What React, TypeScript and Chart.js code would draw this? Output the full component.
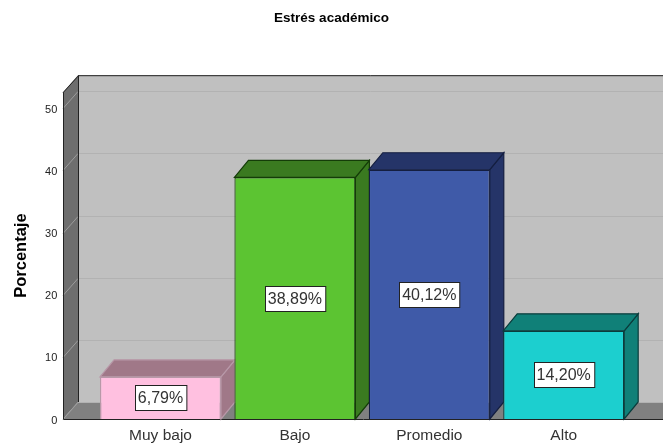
import React, { useEffect, useRef } from "react";
import { Chart, registerables } from "chart.js";

Chart.register(...registerables);

const chartTitle = "Estrés académico";
const yTitle = "Porcentaje";
const categories = ["Muy bajo", "Bajo", "Promedio", "Alto"];
const percentages = [6.79, 38.89, 40.12, 14.2];
const frontColors = ["#FFC0E0", "#5CC432", "#3F5AA8", "#1CCFCF"];
const sideColors = ["#A07888", "#3A7A20", "#253468", "#108078"];
const edgeColors = ["#B898A8", "#143C08", "#141E40", "#0A3C3C"];

const FONT = "'Liberation Sans', Arial, sans-serif";
const DX = 15;
const DY = 17;

const scene3d = {
  id: "scene3d",
  beforeDatasetsDraw(chart: any) {
    const { ctx, scales, width } = chart;
    const y = scales.y;
    const top = y.getPixelForValue(y.max);
    const base = y.getPixelForValue(0);
    const wx = 63;
    const bx = wx + DX;
    ctx.save();
    // back wall
    ctx.fillStyle = "#C0C0C0";
    ctx.fillRect(bx, top - DY, width - bx, base - top);
    // left wall
    ctx.fillStyle = "#6E6E6E";
    ctx.beginPath();
    ctx.moveTo(wx, top);
    ctx.lineTo(bx, top - DY);
    ctx.lineTo(bx, base - DY);
    ctx.lineTo(wx, base);
    ctx.closePath();
    ctx.fill();
    // floor
    ctx.fillStyle = "#808080";
    ctx.beginPath();
    ctx.moveTo(wx, base);
    ctx.lineTo(bx, base - DY);
    ctx.lineTo(width, base - DY);
    ctx.lineTo(width, base);
    ctx.closePath();
    ctx.fill();
    // grid lines
    ctx.lineWidth = 1;
    y.ticks.forEach((t: any) => {
      const py = Math.round(y.getPixelForValue(t.value)) + 0.5;
      ctx.strokeStyle = "#B2B2B2";
      ctx.beginPath();
      ctx.moveTo(bx, py - DY);
      ctx.lineTo(width, py - DY);
      ctx.stroke();
      ctx.strokeStyle = "#9C9C9C";
      ctx.beginPath();
      ctx.moveTo(wx, py);
      ctx.lineTo(bx, py - DY);
      ctx.stroke();
    });
    // outlines
    ctx.strokeStyle = "#222222";
    ctx.lineWidth = 1;
    ctx.beginPath();
    ctx.moveTo(width, top - DY + 0.5);
    ctx.lineTo(bx + 0.5, top - DY + 0.5);
    ctx.lineTo(wx + 0.5, top);
    ctx.lineTo(wx + 0.5, base + 0.5);
    ctx.lineTo(width, base + 0.5);
    ctx.moveTo(bx + 0.5, top - DY);
    ctx.lineTo(bx + 0.5, base - DY);
    ctx.stroke();
    // 3D bar faces, left to right
    const bars = chart.getDatasetMeta(0).data;
    bars.forEach((bar: any, i: number) => {
      const l = bar.x - bar.width / 2;
      const r = bar.x + bar.width / 2;
      const ty = bar.y;
      const by = bar.base;
      const dx = 14;
      ctx.lineWidth = 1.2;
      ctx.strokeStyle = edgeColors[i];
      ctx.fillStyle = sideColors[i];
      ctx.beginPath();
      ctx.moveTo(r, ty);
      ctx.lineTo(r + dx, ty - DY);
      ctx.lineTo(r + dx, by - DY);
      ctx.lineTo(r, by);
      ctx.closePath();
      ctx.fill();
      ctx.stroke();
      ctx.beginPath();
      ctx.moveTo(l, ty);
      ctx.lineTo(l + dx, ty - DY);
      ctx.lineTo(r + dx, ty - DY);
      ctx.lineTo(r, ty);
      ctx.closePath();
      ctx.fill();
      ctx.stroke();
    });
    ctx.restore();
  },
  afterDatasetsDraw(chart: any) {
    const { ctx } = chart;
    const bars = chart.getDatasetMeta(0).data;
    ctx.save();
    ctx.font = `16px ${FONT}`;
    ctx.textAlign = "center";
    ctx.textBaseline = "middle";
    bars.forEach((bar: any, i: number) => {
      const text = percentages[i].toFixed(2).replace(".", ",") + "%";
      const w = ctx.measureText(text).width + 6;
      const h = 25;
      const cy = (bar.y + bar.base) / 2;
      const x = Math.round(bar.x - w / 2) + 0.5;
      const yy = Math.round(cy - h / 2) + 0.5;
      ctx.fillStyle = "#FFFFFF";
      ctx.fillRect(x, yy, w, h);
      ctx.strokeStyle = "#222222";
      ctx.lineWidth = 1;
      ctx.strokeRect(x, yy, w, h);
      ctx.fillStyle = "#333333";
      ctx.fillText(text, bar.x, cy + 1);
    });
    ctx.restore();
  },
};

export default function App() {
  const ref = useRef<HTMLCanvasElement>(null);
  useEffect(() => {
    document.body.style.margin = "0";
    const chart = new Chart(ref.current!, {
      type: "bar",
      data: {
        labels: categories,
        datasets: [
          {
            data: percentages,
            backgroundColor: frontColors,
            borderColor: edgeColors,
            borderWidth: 1.2,
            categoryPercentage: 1,
            barPercentage: 0.9,
          },
        ],
      },
      options: {
        animation: false,
        responsive: false,
        maintainAspectRatio: false,
        layout: { padding: 0 },
        plugins: {
          legend: { display: false },
          tooltip: { enabled: false },
          title: {
            display: true,
            text: chartTitle,
            color: "#000000",
            font: { family: FONT, size: 13.5, weight: "bold" },
            padding: { top: 10, bottom: 66 },
          },
        },
        scales: {
          x: {
            grid: { display: false, drawTicks: false },
            border: { display: false },
            afterFit: (s: any) => {
              s.height = 27;
            },
            ticks: {
              color: "#333333",
              font: { family: FONT, size: 15.5 },
              padding: 7,
              maxRotation: 0,
            },
          },
          y: {
            min: 0,
            max: 52.6,
            grid: { display: false, drawTicks: false },
            border: { display: false },
            afterFit: (s: any) => {
              s.width = 93.3;
              s.paddingTop = 0;
              s.paddingBottom = 0;
            },
            title: {
              display: true,
              text: yTitle,
              color: "#000000",
              font: { family: FONT, size: 16.5, weight: "bold" },
              padding: { top: 12, bottom: 0 },
            },
            ticks: {
              stepSize: 10,
              includeBounds: false,
              color: "#222222",
              font: { family: FONT, size: 11 },
              padding: 36,
              labelOffset: 1.5,
            },
          },
          rightGutter: {
            type: "linear",
            position: "right",
            display: true,
            grid: { display: false, drawTicks: false },
            border: { display: false },
            ticks: { display: false },
            afterFit: (s: any) => {
              s.width = 32.1;
            },
          },
        },
      },
      plugins: [scene3d],
    } as any);
    return () => chart.destroy();
  }, []);
  return (
    <div style={{ width: 663, height: 446 }}>
      <canvas
        ref={ref}
        width={663}
        height={446}
        style={{ display: "block", width: 663, height: 446 }}
      />
    </div>
  );
}
